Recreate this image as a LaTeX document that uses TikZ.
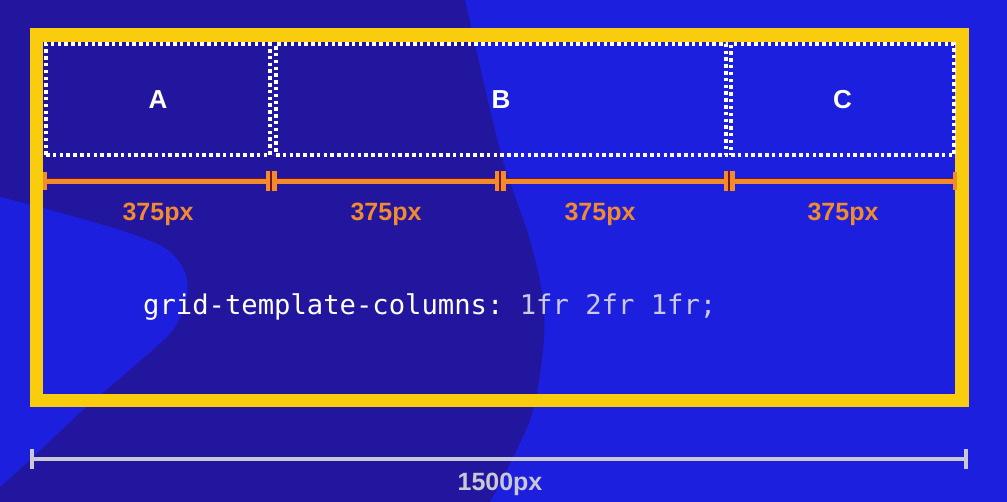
\documentclass[tikz,border=0pt]{standalone}
\usepackage{fontspec}
\setmainfont{Liberation Sans}
\setmonofont{DejaVu Sans Mono}
\definecolor{bgbright}{HTML}{1C20DE}
\definecolor{bgdark}{HTML}{22159E}
\definecolor{frameyellow}{HTML}{F9CC0E}
\definecolor{rulerorange}{HTML}{F28B2E}
\definecolor{rulershadow}{HTML}{7A1420}
\definecolor{rulergray}{HTML}{C9C9D6}
\definecolor{codegray}{HTML}{CACAE8}
\begin{document}
\begin{tikzpicture}[x=1pt,y=-1pt,
  cell/.style={draw=white, line width=3.5pt, dash pattern=on 3.5pt off 3.3pt,
    minimum height=111pt, inner sep=0pt, text=white,
    font=\fontsize{26}{30}\selectfont\bfseries},
  gridframe/.style={draw=frameyellow, line width=13.5pt, inner sep=0pt},
  rulerline/.style={draw=rulerorange, line width=5pt,
    preaction={draw=rulershadow, line width=5pt, transform canvas={yshift=1.3pt}}},
  dtick/.style={fill=rulerorange, minimum width=11pt, minimum height=20pt, inner sep=0pt,
    path picture={\draw[rulershadow, line width=1.3pt]
      (path picture bounding box.north) -- (path picture bounding box.south);}},
  etick/.style={fill=rulerorange, minimum width=3.5pt, minimum height=18pt, inner sep=0pt},
  sizelabel/.style={text=rulerorange, font=\fontsize{25}{30}\selectfont\bfseries, inner sep=0pt},
  grayline/.style={draw=rulergray, line width=4pt},
  gtick/.style={fill=rulergray, minimum width=3.5pt, minimum height=19pt, inner sep=0pt},
  graylabel/.style={text=rulergray, font=\fontsize{25}{30}\selectfont\bfseries, inner sep=0pt},
  code/.style={font=\ttfamily\fontsize{27.2}{30}\selectfont, inner sep=0pt, anchor=base west}
]
\useasboundingbox (0,0) rectangle (1007,502);
% background
\fill[bgbright] (0,0) rectangle (1007,502);
\fill[bgdark] (0,0) -- plot[smooth] coordinates {(465,0) (500,150) (530,240) (543,300) (543,350) (530,420) (490,502)} -- (0,502) -- cycle;
\fill[bgbright] plot[smooth] coordinates {(0,197) (43,208) (120,230) (165,248) (184,270) (187,295) (173,330) (133,367) (83,410) (33,457) (0,487)} -- cycle;
% frame
\node[gridframe, minimum width=925.5pt, minimum height=365.5pt] (frame) at (499.25,217.75) {};
% cells
\node[cell, minimum width=224pt] (a) at (158,99.5) {A};
\node[cell, minimum width=450pt] (b) at (501,99.5) {B};
\node[cell, minimum width=223pt] (c) at (842.5,99.5) {C};
% orange ruler
\coordinate (o0) at (45,181.5);
\coordinate (o1) at (271,181.5);
\coordinate (o2) at (500,181.5);
\coordinate (o3) at (729,181.5);
\coordinate (o4) at (955,181.5);
\draw[rulerline] (o0) -- (o4);
\node[etick] (t0) at (o0) {};
\node[dtick] (t1) at (o1) {};
\node[dtick] (t2) at (o2) {};
\node[dtick] (t3) at (o3) {};
\node[etick] (t4) at (o4) {};
\node[sizelabel] (l1) at (158,214.5) {375px};
\node[sizelabel] (l2) at (386,214.5) {375px};
\node[sizelabel] (l3) at (600,214.5) {375px};
\node[sizelabel] (l4) at (843,214.5) {375px};
% code
\node[code, text=white] (code) at (143,315) {grid-template-columns:\ \textcolor{codegray}{1fr 2fr 1fr;}};
% gray ruler
\coordinate (g0) at (32,459);
\coordinate (g1) at (966,459);
\draw[grayline] (g0) -- (g1);
\node[gtick] (gt0) at (g0) {};
\node[gtick] (gt1) at (g1) {};
\node[graylabel] (total) at (500,484) {1500px};
\end{tikzpicture}
\end{document}
